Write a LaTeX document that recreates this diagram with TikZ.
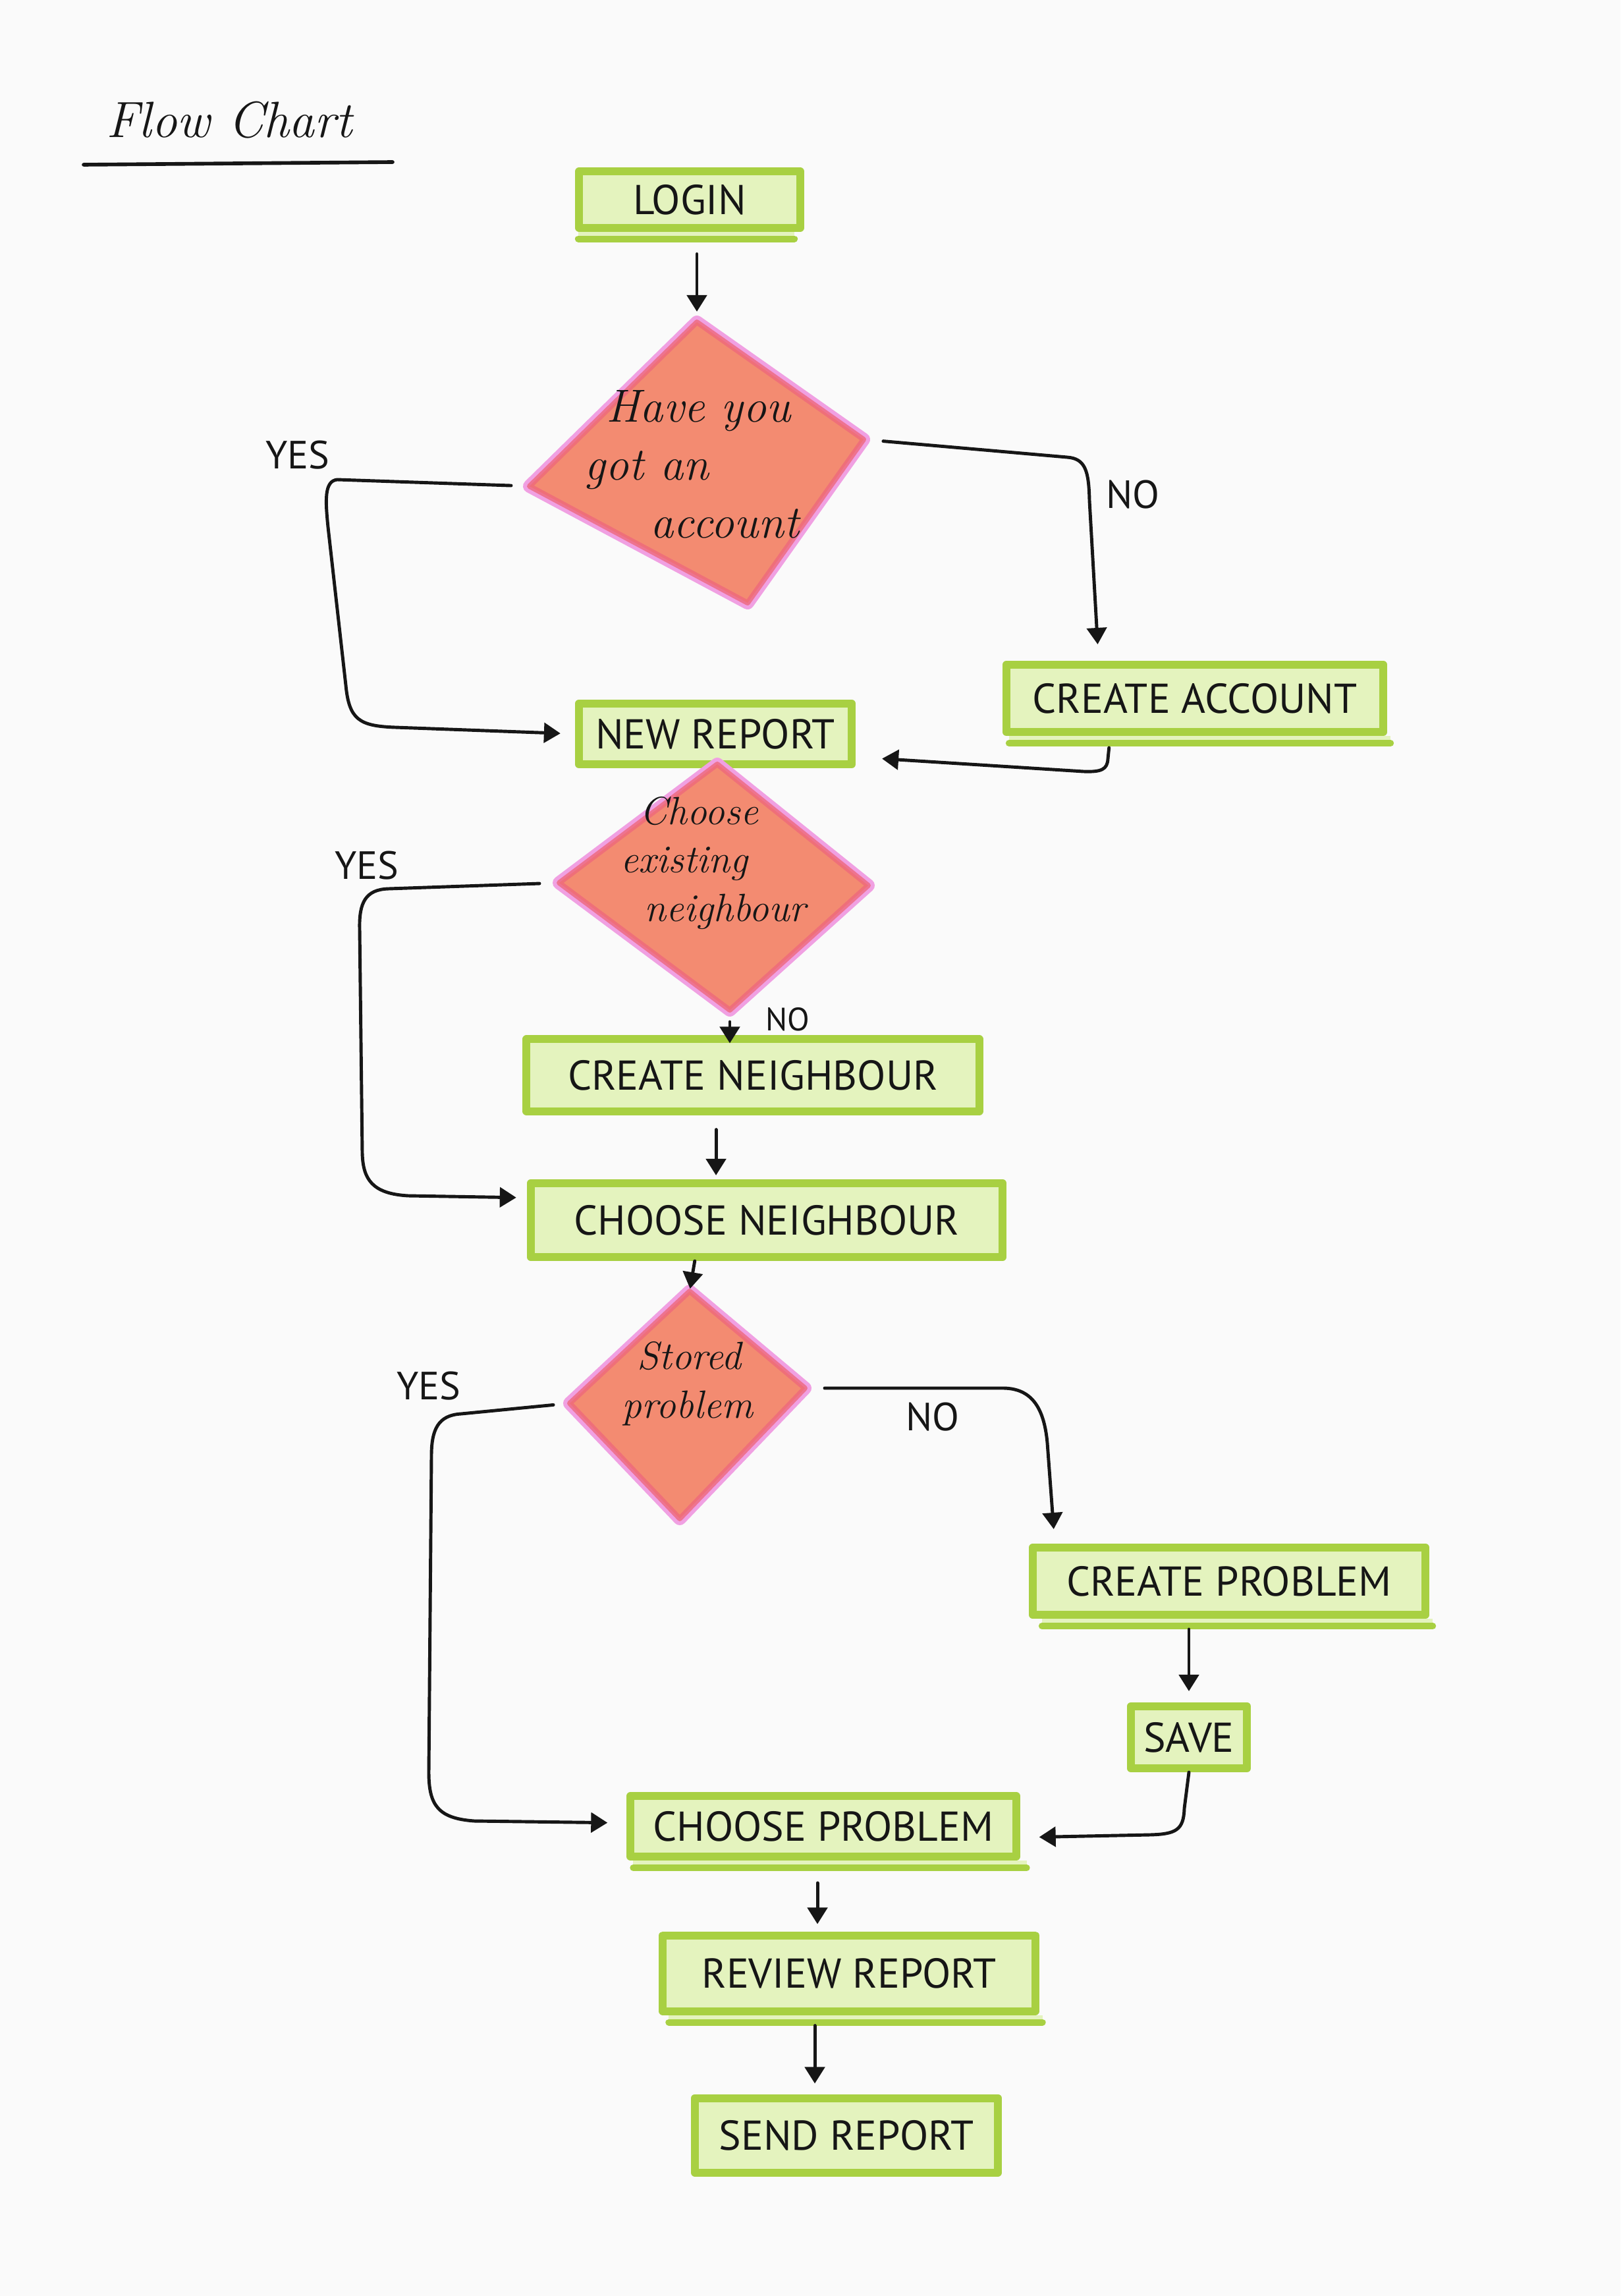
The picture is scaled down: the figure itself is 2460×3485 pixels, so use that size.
\documentclass[tikz,border=0pt]{standalone}
\usepackage{fontspec}
\setsansfont{PT Sans}
\usetikzlibrary{arrows.meta,calc}

\definecolor{paper}{RGB}{250,250,250}
\definecolor{mkgreen}{RGB}{168,208,66}
\definecolor{mkfill}{RGB}{228,243,190}
\definecolor{salmon}{RGB}{243,139,113}
\definecolor{rose}{RGB}{238,104,124}
\definecolor{orchid}{RGB}{240,160,226}
\definecolor{ink}{RGB}{22,22,22}

\tikzset{
  stepbox/.style={draw=mkgreen, fill=mkfill, line width=0.12cm, line join=round,
    inner sep=0pt, text=ink, font=\sffamily\fontsize{18}{20}\selectfont},
  restroke/.style={draw=mkgreen, line width=0.1cm, line cap=round},
  qtext/.style={text=ink, align=left, inner sep=0pt},
  lbl/.style={text=ink, font=\sffamily\fontsize{17}{18}\selectfont, inner sep=0pt},
  conn/.style={draw=ink, line width=1.4pt, line cap=round, line join=round,
    -{Triangle[width=0.3cm,length=0.25cm]}},
}

% marker-style decision diamond from four named corners <p>n, <p>e, <p>s, <p>w
\newcommand{\mkdiamond}[1]{%
  \draw[orchid, line width=0.2cm, line join=round] (#1n) -- (#1e) -- (#1s) -- (#1w) -- cycle;
  \fill[salmon] (#1n) -- (#1e) -- (#1s) -- (#1w) -- cycle;
  \draw[rose, line width=0.08cm, line join=round, opacity=0.8] (#1n) -- (#1e) -- (#1s) -- (#1w) -- cycle;
}

% second marker pass under the bottom edge of a box, with pale ink in between
\newcommand{\underpass}[3]{%
  \fill[mkfill] ([xshift=#2]#1.south west) rectangle ([xshift=#3, yshift=-0.11cm]#1.south east);
  \draw[restroke] ([xshift=#2, yshift=-0.11cm]#1.south west) -- ([xshift=#3, yshift=-0.11cm]#1.south east);
}

\begin{document}
\begin{tikzpicture}[x=0.01cm, y=-0.01cm]
\fill[paper] (0,0) rectangle (2460,3485);
\useasboundingbox (0,0) rectangle (2460,3485);

% title
\node[text=ink, inner sep=0pt, font=\itshape\fontsize{22}{24}\selectfont] (title) at (348,182) {Flow Chart};
\draw[ink, line width=1.6pt, line cap=round] (127,250) -- (596,246);

% diamond corners
\coordinate (d1n) at (1058,489);
\coordinate (d1e) at (1311,667);
\coordinate (d1s) at (1135,915);
\coordinate (d1w) at (804,738);
\coordinate (d2n) at (1089,1160);
\coordinate (d2e) at (1318,1344);
\coordinate (d2s) at (1108,1533);
\coordinate (d2w) at (849,1340);
\coordinate (d3n) at (1047,1960);
\coordinate (d3e) at (1222,2107);
\coordinate (d3s) at (1032,2305);
\coordinate (d3w) at (865,2130);

% process boxes
\node[stepbox, minimum width=3.36cm, minimum height=0.85cm] (login) at (1047,303) {LOGIN};
\underpass{login}{0.05cm}{-0.15cm}
\node[stepbox, minimum width=5.72cm, minimum height=1.02cm] (ca) at (1814,1060) {CREATE ACCOUNT};
\underpass{ca}{0.1cm}{0.05cm}
\node[stepbox, minimum width=4.14cm, minimum height=0.92cm] (newrep) at (1086,1114) {NEW REPORT};

\mkdiamond{d1}
\mkdiamond{d2}
\mkdiamond{d3}

\node[stepbox, minimum width=6.87cm, minimum height=1.09cm] (cnb) at (1143,1632) {CREATE NEIGHBOUR};
\node[stepbox, minimum width=7.16cm, minimum height=1.12cm] (chn) at (1164,1852) {CHOOSE NEIGHBOUR};
\node[stepbox, minimum width=5.96cm, minimum height=1.02cm] (cp) at (1866,2400) {CREATE PROBLEM};
\underpass{cp}{0.2cm}{0.05cm}
\node[stepbox, minimum width=1.76cm, minimum height=0.94cm] (save) at (1805,2637) {SAVE};
\node[stepbox, minimum width=5.85cm, minimum height=0.92cm] (chp) at (1250,2772) {CHOOSE PROBLEM};
\underpass{chp}{0.1cm}{0.1cm}
\node[stepbox, minimum width=5.65cm, minimum height=1.15cm] (rr) at (1289,2995) {REVIEW REPORT};
\underpass{rr}{0.15cm}{0.05cm}
\node[stepbox, minimum width=4.60cm, minimum height=1.13cm] (sr) at (1285,3241) {SEND REPORT};

% decision texts
\node[qtext, anchor=west, font=\itshape\fontsize{20}{25}\selectfont] (d1) at (887,705)
  {\hspace*{0.33cm}Have you\\got an\\\hspace*{1.0cm}account};
\node[qtext, anchor=west, font=\itshape\fontsize{17}{21}\selectfont] (d2) at (942,1310)
  {\hspace*{0.29cm}Choose\\existing\\\hspace*{0.36cm}neighbour};
\node[qtext, anchor=west, font=\itshape\fontsize{17}{21}\selectfont] (d3) at (944,2100)
  {\hspace*{0.23cm}Stored\\problem};

% branch labels
\node[lbl] (yes1) at (452,691) {YES};
\node[lbl] (no1) at (1720,751) {NO};
\node[lbl] (yes2) at (557,1314) {YES};
\node[lbl, font=\sffamily\fontsize{14}{15}\selectfont] (no2) at (1196,1547) {NO};
\node[lbl] (yes3) at (651,2104) {YES};
\node[lbl] (no3) at (1416,2151) {NO};

% connector end points on box edges
\coordinate (caIn) at ($(ca.north west)!0.25!(ca.north east)$);
\coordinate (caOut) at ($(ca.south west)!0.28!(ca.south east)$);
\coordinate (cnbOut) at ($(cnb.south west)!0.42!(cnb.south east)$);
\coordinate (chnOut) at ($(chn.south west)!0.35!(chn.south east)$);
\coordinate (cpIn) at ($(cp.north west)!0.065!(cp.north east)$);
\coordinate (chpOut) at ($(chp.south west)!0.485!(chp.south east)$);
\coordinate (rrOut) at ($(rr.south west)!0.41!(rr.south east)$);
\coordinate (nrIn) at ($(newrep.east)+(0,35)$);
\coordinate (chnIn) at ($(chn.west)+(0,-34)$);
\coordinate (chpInL) at ($(chp.west)+(0,-5)$);
\coordinate (chpInR) at ($(chp.east)+(0,17)$);

% connectors
\draw[conn, shorten <=0.34cm, shorten >=0.16cm] (login.south -| d1n) -- (d1n);

\draw[conn, shorten <=0.28cm, shorten >=0.22cm] (d1w) -- (512,728)
  .. controls (492,730) and (494,760) .. (498,800) -- (525,1040)
  .. controls (530,1092) and (545,1102) .. (600,1104) -- (newrep.west);

\draw[conn, shorten <=0.3cm, shorten >=0.25cm] (d1e) -- (1620,694)
  .. controls (1648,696) and (1653,715) .. (1654,760) -- (caIn);

\draw[conn, shorten <=0.18cm, shorten >=0.4cm] (caOut) -- (1682,1152)
  .. controls (1681,1168) and (1672,1172) .. (1645,1171) -- (nrIn);

\draw[conn, shorten <=0.3cm, shorten >=0.16cm] (d2w) -- (590,1349)
  .. controls (555,1350) and (545,1370) .. (546,1410) -- (550,1750)
  .. controls (551,1790) and (565,1812) .. (620,1815) -- (chnIn);

\draw[conn, shorten <=0.18cm, shorten >=-0.12cm] (d2s) -- (d2s |- cnb.north);
\draw[conn, shorten <=0.22cm, shorten >=0.06cm] (cnbOut) -- (cnbOut |- chn.north);
\draw[conn, shorten >=0.04cm] (chnOut) -- (d3n);

\draw[conn, shorten <=0.25cm, shorten >=0.29cm] (d3w) -- (700,2146)
  .. controls (665,2148) and (655,2170) .. (655,2210) -- (651,2690)
  .. controls (651,2740) and (665,2760) .. (720,2764) -- (chpInL);

\draw[conn, shorten <=0.3cm, shorten >=0.22cm] (d3e) -- (1520,2107)
  .. controls (1565,2106) and (1585,2135) .. (1590,2190) -- (cpIn);

\draw[conn, shorten <=0.16cm, shorten >=0.17cm] (save.north |- cp.south) -- (save.north);

\draw[conn, shorten >=0.29cm] (save.south) -- (1798,2745)
  .. controls (1797,2778) and (1785,2784) .. (1745,2785) -- (chpInR);

\draw[conn, shorten <=0.34cm, shorten >=0.11cm] (chpOut) -- (chpOut |- rr.north);
\draw[conn, shorten <=0.16cm, shorten >=0.16cm] (rrOut) -- (rrOut |- sr.north);
\end{tikzpicture}
\end{document}
